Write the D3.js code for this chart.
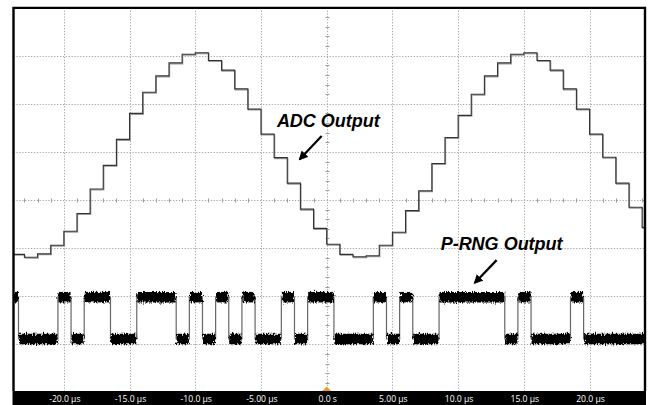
<!DOCTYPE html>
<html>
<head>
<meta charset="utf-8">
<script src="https://cdn.jsdelivr.net/npm/d3@7"></script>
<style>
  html, body { margin: 0; padding: 0; background: #fff; }
  svg { display: block; }
</style>
</head>
<body>
<svg id="chart" width="650" height="405"></svg>
<script>
// ---------------- DATA ----------------
// time axis tick values (µs) and labels
const xTickValues = [-20, -15, -10, -5, 0, 5, 10, 15, 20];
const xTickLabels = ["-20.0 \u00b5s", "-15.0 \u00b5s", "-10.0 \u00b5s", "-5.00 \u00b5s", "0.0 s",
                     "5.00 \u00b5s", "10.0 \u00b5s", "15.0 \u00b5s", "20.0 \u00b5s"];
// vertical grid levels (divisions)
const yGridValues = [-3, -2, -1, 0, 1, 2, 3];

// ADC output: one value (in divisions) per 1 µs step, starting at t = -24 µs
const adcStart = -24;
const adcValues = [-1.13,-1.19,-1.12,-0.94,-0.65,-0.28,0.23,0.72,1.26,1.80,
                   2.24,2.58,2.85,3.03,3.06,2.90,2.70,2.31,1.89,1.37,
                   0.88,0.35,-0.19,-0.59,-0.92,-1.13,-1.18,-1.16,-0.94,-0.67,
                   -0.22,0.19,0.76,1.30,1.76,2.20,2.58,2.85,3.03,3.06,
                   2.90,2.70,2.31,1.89,1.37,0.89,0.35,-0.15,-0.57];

// P-RNG output: one bit per 1 µs, starting at t = -24.45 µs
const prngStart = -24.45;
const prngBits = [1,0,0,0,1,0,1,1,0,0,1,1,1,0,1,0,1,0,1,0,0,1,0,1,1,0,0,0,1,0,1,0,0,
                  1,1,1,1,1,0,1,0,0,0,1,0,0,0,0,0];
const prngHigh = -2.02, prngLow = -2.89;   // levels in divisions

// annotations (data coordinates: µs, divisions)
const labels = [
  { text: "ADC Output",   t: -3.79, v: 1.524, from: [-0.38, 1.33], to: [-2.04, 0.85] },
  { text: "P-RNG Output", t: 8.67,  v: -1.04, from: [12.93, -1.25], to: [11.28, -1.72] }
];

// ---------------- LAYOUT ----------------
const L = 13.5, R = 645, T = 7.6, B = 392.4, barTop = 391, H = 405;
const x = d3.scaleLinear().domain([-23.83, 24.22]).range([L, R]);
const y = d3.scaleLinear().domain([-4, 4]).range([B, T]);

const svg = d3.select("#chart");
const defs = svg.append("defs");
defs.append("clipPath").attr("id", "plotclip")
  .append("rect").attr("x", L).attr("y", T).attr("width", R - L).attr("height", barTop - T);

// noise texture for the digital trace
const f = defs.append("filter").attr("id", "noisy")
  .attr("x", "-2%").attr("y", "-30%").attr("width", "104%").attr("height", "160%");
f.append("feTurbulence").attr("type", "fractalNoise")
  .attr("baseFrequency", "0.9 0.35").attr("numOctaves", 2).attr("seed", 3).attr("result", "turb");
f.append("feDisplacementMap").attr("in", "SourceGraphic").attr("in2", "turb")
  .attr("scale", 5.5).attr("xChannelSelector", "B").attr("yChannelSelector", "R");

defs.append("marker").attr("id", "arrowhead")
  .attr("viewBox", "0 0 10 10").attr("refX", 8).attr("refY", 5)
  .attr("markerWidth", 4.2).attr("markerHeight", 4.2).attr("orient", "auto")
  .append("path").attr("d", "M0,0 L10,5 L0,10 Z").attr("fill", "#000");

// ---------------- GRID ----------------
const grid = svg.append("g").attr("stroke", "#a8a8a8").attr("stroke-width", 1)
  .attr("stroke-dasharray", "1.3,1.6");
grid.selectAll("line.v").data(xTickValues).join("line").attr("class", "v")
  .attr("x1", d => Math.round(x(d)) + 0.5).attr("x2", d => Math.round(x(d)) + 0.5)
  .attr("y1", T).attr("y2", barTop);
grid.selectAll("line.h").data(yGridValues).join("line").attr("class", "h")
  .attr("x1", L).attr("x2", R)
  .attr("y1", d => Math.round(y(d)) + 0.5).attr("y2", d => Math.round(y(d)) + 0.5);

// minor ticks on the centre axes
const minor = svg.append("g").attr("stroke", "#9a9a9a").attr("stroke-width", 1);
const xMinor = d3.range(-23, 25, 1).filter(d => d % 5 !== 0);
minor.selectAll("line.xm").data(xMinor).join("line").attr("class", "xm")
  .attr("x1", d => Math.round(x(d)) + 0.5).attr("x2", d => Math.round(x(d)) + 0.5)
  .attr("y1", Math.round(y(0)) - 1.5).attr("y2", Math.round(y(0)) + 2.5);
const yMinor = d3.range(-19, 20, 1).map(d => d / 5).filter(d => Math.abs(d - Math.round(d)) > 1e-6);
minor.selectAll("line.ym").data(yMinor).join("line").attr("class", "ym")
  .attr("y1", d => Math.round(y(d)) + 0.5).attr("y2", d => Math.round(y(d)) + 0.5)
  .attr("x1", Math.round(x(0)) - 1.5).attr("x2", Math.round(x(0)) + 2.5);

// ---------------- TRACES ----------------
const plot = svg.append("g").attr("clip-path", "url(#plotclip)");

// ADC staircase
const adcPts = adcValues.map((v, i) => [adcStart + i, v]);
adcPts.push([adcStart + adcValues.length, adcValues[adcValues.length - 1]]);
const stepLine = d3.line().x(d => x(d[0])).y(d => y(d[1])).curve(d3.curveStepAfter);
plot.append("path").attr("d", stepLine(adcPts))
  .attr("fill", "none").attr("stroke", "#9a9a9a").attr("stroke-width", 1.2)
  .attr("transform", "translate(0.6,0.9)");
plot.append("path").attr("d", stepLine(adcPts))
  .attr("fill", "none").attr("stroke", "#333").attr("stroke-width", 1.1);

// P-RNG digital output
const lvl = b => b ? prngHigh : prngLow;
const prPts = prngBits.map((b, i) => [prngStart + i, lvl(b)]);
prPts.push([prngStart + prngBits.length, lvl(prngBits[prngBits.length - 1])]);
plot.append("path").attr("d", stepLine(prPts))
  .attr("fill", "none").attr("stroke", "#666").attr("stroke-width", 1.2);

// runs of equal bits -> thick noisy bands
const runs = [];
prngBits.forEach((b, i) => {
  const last = runs[runs.length - 1];
  if (last && last.b === b) last.end = prngStart + i + 1;
  else runs.push({ b, start: prngStart + i, end: prngStart + i + 1 });
});
plot.append("g").attr("filter", "url(#noisy)")
  .selectAll("line").data(runs).join("line")
  .attr("x1", d => x(d.start) + 0.5).attr("x2", d => x(d.end) - 0.5)
  .attr("y1", d => y(lvl(d.b))).attr("y2", d => y(lvl(d.b)))
  .attr("stroke", "#000").attr("stroke-width", 10.5);

// ---------------- ANNOTATIONS ----------------
labels.forEach(l => {
  svg.append("text").attr("x", x(l.t)).attr("y", y(l.v))
    .attr("font-family", "Liberation Sans, Arial, sans-serif")
    .attr("font-weight", "bold").attr("font-style", "italic")
    .attr("font-size", 18).attr("fill", "#000").text(l.text);
  svg.append("line")
    .attr("x1", x(l.from[0])).attr("y1", y(l.from[1]))
    .attr("x2", x(l.to[0])).attr("y2", y(l.to[1]))
    .attr("stroke", "#000").attr("stroke-width", 2.2)
    .attr("marker-end", "url(#arrowhead)");
});

// ---------------- FRAME & BOTTOM BAR ----------------
svg.append("rect").attr("x", L - 1).attr("y", barTop).attr("width", R - L + 2).attr("height", H - barTop)
  .attr("fill", "#000");
svg.append("path")
  .attr("d", `M${L},${barTop} L${L},${T + 0.3} L${R},${T + 0.3} L${R},${barTop}`)
  .attr("fill", "none").attr("stroke", "#000").attr("stroke-width", 2.4);

svg.selectAll("text.tick").data(xTickValues).join("text").attr("class", "tick")
  .attr("x", d => x(d) + 1).attr("y", 401.5)
  .attr("text-anchor", "middle")
  .attr("font-family", "Open Sans, Liberation Sans, sans-serif")
  .attr("font-size", 8.6).attr("fill", "#fff")
  .text((d, i) => xTickLabels[i]);

// trigger marker
svg.append("path")
  .attr("d", `M${x(0) - 4.5},${barTop} L${x(0) + 4.5},${barTop} L${x(0)},${barTop - 4.5} Z`)
  .attr("fill", "#f59a1b");
</script>
</body>
</html>
